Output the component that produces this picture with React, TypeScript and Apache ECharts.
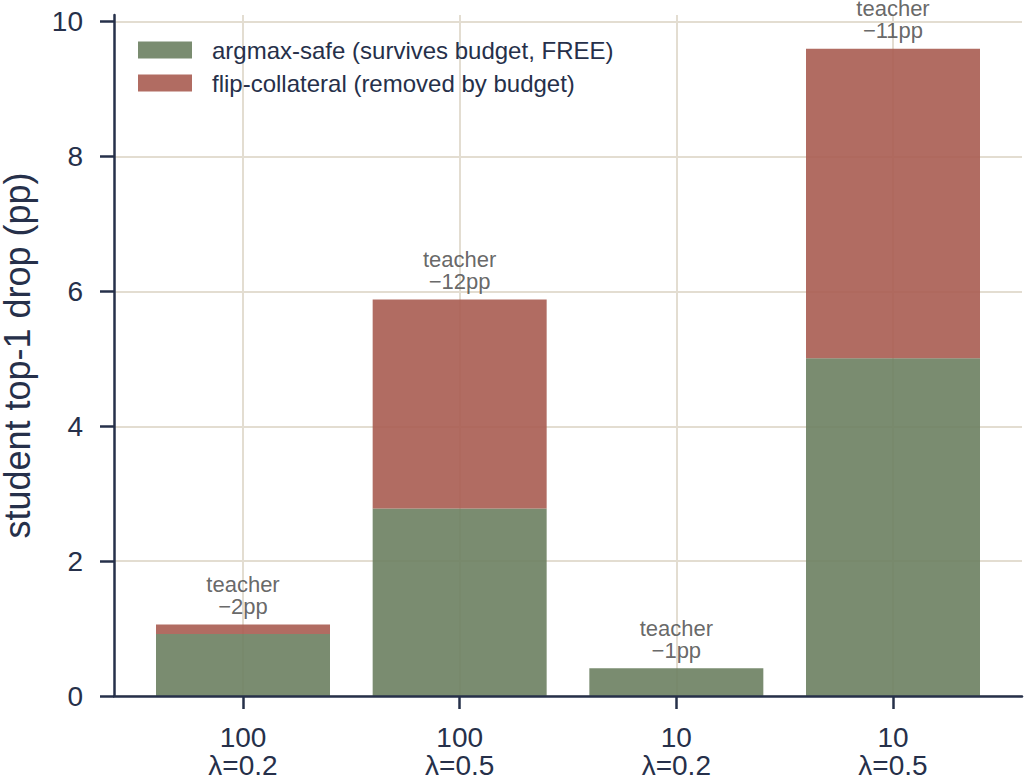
import React, { useEffect, useRef } from "react";
import * as echarts from "echarts";

// Budget / lambda settings along the x axis
const budgets = ["100", "100", "10", "10"];
const lambdas = ["0.2", "0.5", "0.2", "0.5"];

// Student top-1 drop split into the two components (pp)
const argmaxSafe = [0.92, 2.78, 0.41, 5.01];
const flipCollateral = [0.14, 3.1, 0, 4.59];

// Teacher top-1 drop annotated above each stack (pp)
const teacherDrop = [2, 12, 1, 11];

const yTicks = [0, 2, 4, 6, 8, 10];

const INK = "#26304a";
const GRID = "#e3ddd1";
const FONT = "'Liberation Sans', Arial, Helvetica, sans-serif";

export default function App() {
  const ref = useRef<HTMLDivElement>(null);

  useEffect(() => {
    if (!ref.current) return;
    document.body.style.margin = "0";
    const chart = echarts.init(ref.current, undefined, { renderer: "svg" });

    const categories = budgets.map((b, i) => `${b}\nλ=${lambdas[i]}`);
    const top = 15;
    const bottom = 81;

    chart.setOption({
      animation: false,
      backgroundColor: "#ffffff",
      textStyle: { fontFamily: FONT },
      grid: [
        // frame: spines, y ticks and horizontal grid lines
        { left: 114, right: 2, top, bottom, containLabel: false, outerBoundsMode: "none" },
        // category positions for the bars
        { left: 243, right: 131, top, bottom, containLabel: false, outerBoundsMode: "none" },
      ],
      legend: {
        orient: "vertical",
        left: 138,
        top: 38,
        padding: 0,
        itemWidth: 54,
        itemHeight: 17,
        itemGap: 9,
        icon: "rect",
        textStyle: {
          color: INK,
          fontSize: 24,
          lineHeight: 24,
          fontFamily: FONT,
          padding: [0, 0, 0, 15],
        },
        data: [
          "argmax-safe (survives budget, FREE)",
          "flip-collateral (removed by budget)",
        ],
      },
      xAxis: [
        {
          type: "value",
          gridIndex: 0,
          min: 0,
          max: 1,
          z: 5,
          axisLine: { show: true, onZero: false, lineStyle: { color: INK, width: 2.5 } },
          axisTick: { show: false },
          axisLabel: { show: false },
          splitLine: { show: false },
        },
        {
          type: "category",
          gridIndex: 1,
          boundaryGap: false,
          data: categories,
          axisLine: { show: false },
          axisTick: {
            show: true,
            alignWithLabel: true,
            length: 13,
            lineStyle: { color: INK, width: 2.5 },
          },
          axisLabel: {
            color: INK,
            fontSize: 28,
            lineHeight: 28,
            margin: 27,
            fontFamily: FONT,
          },
          splitLine: { show: true, lineStyle: { color: GRID, width: 2 } },
        },
      ],
      yAxis: [
        {
          type: "value",
          gridIndex: 0,
          min: 0,
          max: 10.1,
          name: "student top-1 drop (pp)",
          nameLocation: "middle",
          nameGap: 79,
          nameTextStyle: { color: INK, fontSize: 36, fontFamily: FONT },
          axisLine: { show: true, lineStyle: { color: INK, width: 2.5 } },
          axisTick: {
            show: true,
            length: 14,
            customValues: yTicks,
            lineStyle: { color: INK, width: 2.5 },
          },
          axisLabel: {
            color: INK,
            fontSize: 28,
            margin: 31,
            customValues: yTicks,
            fontFamily: FONT,
          },
          splitLine: { show: true, lineStyle: { color: GRID, width: 2 } },
        },
        {
          type: "value",
          gridIndex: 1,
          min: 0,
          max: 10.1,
          show: false,
          splitLine: { show: false },
        },
      ],
      series: [
        {
          name: "argmax-safe (survives budget, FREE)",
          type: "bar",
          xAxisIndex: 1,
          yAxisIndex: 1,
          stack: "drop",
          barWidth: 174,
          clip: false,
          itemStyle: { color: "#6c7f61", opacity: 0.9 },
          data: argmaxSafe,
        },
        {
          name: "flip-collateral (removed by budget)",
          type: "bar",
          xAxisIndex: 1,
          yAxisIndex: 1,
          stack: "drop",
          barWidth: 174,
          clip: false,
          itemStyle: { color: "#a85c51", opacity: 0.9 },
          label: {
            show: true,
            position: "top",
            distance: 7,
            color: "#555555",
            fontSize: 22,
            lineHeight: 22,
            fontFamily: FONT,
            formatter: (p: any) => `teacher\n\u2212${teacherDrop[p.dataIndex]}pp`,
          },
          data: flipCollateral,
        },
      ],
    });

    return () => chart.dispose();
  }, []);

  return (
    <div
      ref={ref}
      style={{ position: "fixed", left: 0, top: 0, width: 1024, height: 777 }}
    />
  );
}
